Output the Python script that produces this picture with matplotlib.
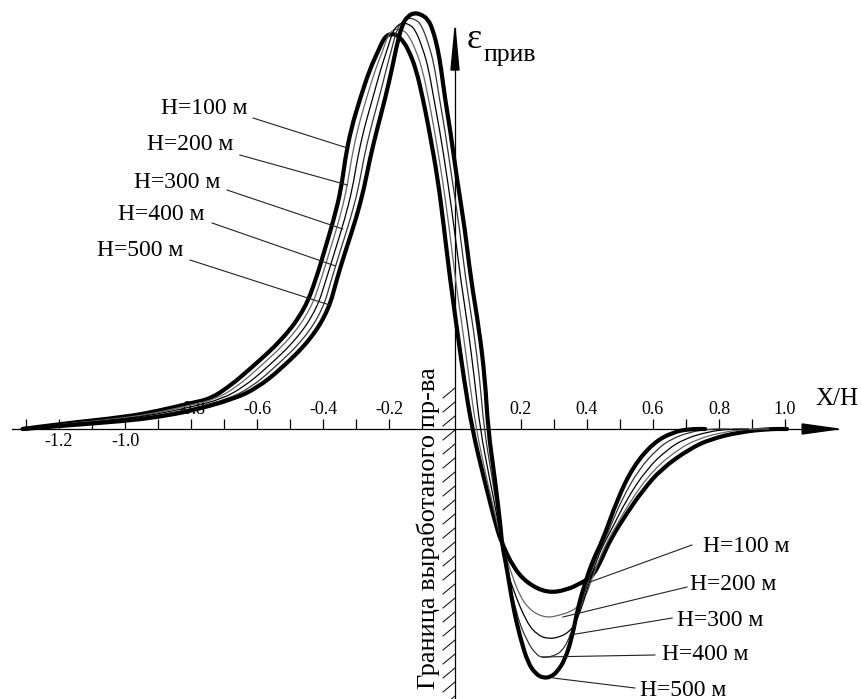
import matplotlib
matplotlib.use('Agg')
import matplotlib.pyplot as plt
from matplotlib.patches import Polygon, PathPatch
from matplotlib.path import Path

plt.rcParams['font.family'] = ['Liberation Serif', 'DejaVu Serif']

# ---------------- data (X/H, reduced strain in arbitrary units) ----------------
x_h100 = [-1.31, -1.2, -1.0, -0.9, -0.8, -0.742, -0.682, -0.621, -0.521, -0.455, -0.421, -0.394, -0.367,
          -0.345, -0.333, -0.315, -0.288, -0.258, -0.230, -0.218, -0.205, -0.191, -0.176, -0.160, -0.142,
          -0.118, -0.097, -0.079, -0.052, -0.033, -0.015, 0.006, 0.027, 0.052, 0.088, 0.127, 0.142,
          0.176, 0.218, 0.279, 0.339, 0.388, 0.418, 0.445, 0.470, 0.521, 0.570, 0.625, 0.710, 0.775,
          0.864, 0.950, 1.006]
y_h100 = [0.0, 0.05, 0.12, 0.18, 0.26, 0.30, 0.43, 0.60, 0.90, 1.20, 1.50, 1.80, 2.10,
          2.40, 2.70, 3.00, 3.30, 3.60, 3.80, 3.89, 3.94, 3.95, 3.94, 3.89, 3.80,
          3.60, 3.30, 3.00, 2.50, 2.00, 1.50, 1.00, 0.50, 0.0, -0.50, -1.00, -1.14,
          -1.38, -1.54, -1.64, -1.61, -1.53, -1.47, -1.30, -1.11, -0.84, -0.61, -0.40, -0.20, -0.10,
          -0.03, 0.0, 0.0]

x_h200 = [-1.31, -1.2, -1.0, -0.9, -0.8, -0.724, -0.662, -0.598, -0.500, -0.437, -0.405, -0.378, -0.350,
          -0.328, -0.314, -0.295, -0.269, -0.241, -0.217, -0.204, -0.189, -0.175, -0.158, -0.141, -0.120,
          -0.099, -0.080, -0.063, -0.038, -0.017, 0.001, 0.023, 0.043, 0.064, 0.096, 0.132, 0.142,
          0.167, 0.197, 0.233, 0.279, 0.318, 0.348, 0.372, 0.395, 0.415, 0.437, 0.462, 0.483, 0.535,
          0.603, 0.678, 0.735, 0.813, 0.890, 0.950]
y_h200 = [0.0, 0.045, 0.11, 0.165, 0.24, 0.30, 0.42, 0.60, 0.90, 1.20, 1.50, 1.80, 2.10,
          2.40, 2.70, 3.00, 3.30, 3.60, 3.80, 3.93, 3.99, 4.00, 3.99, 3.94, 3.80,
          3.60, 3.30, 3.00, 2.50, 2.00, 1.50, 1.00, 0.50, 0.0, -0.50, -1.00, -1.14,
          -1.41, -1.68, -1.83, -1.89, -1.86, -1.83, -1.78, -1.68, -1.50, -1.30, -1.12, -1.00, -0.70,
          -0.40, -0.20, -0.10, -0.03, 0.0, 0.0]

x_h300 = [-1.31, -1.2, -1.0, -0.9, -0.8, -0.706, -0.641, -0.574, -0.479, -0.419, -0.390, -0.362, -0.334,
          -0.311, -0.296, -0.276, -0.250, -0.225, -0.205, -0.189, -0.174, -0.158, -0.141, -0.121, -0.097,
          -0.080, -0.064, -0.047, -0.023, -0.002, 0.017, 0.040, 0.059, 0.076, 0.105, 0.135, 0.142,
          0.145, 0.176, 0.218, 0.250, 0.282, 0.318, 0.345, 0.362, 0.385, 0.405, 0.430, 0.455, 0.475,
          0.521, 0.581, 0.645, 0.695, 0.763, 0.831, 0.890]
y_h300 = [0.0, 0.04, 0.10, 0.15, 0.22, 0.30, 0.42, 0.60, 0.90, 1.20, 1.50, 1.80, 2.10,
          2.40, 2.70, 3.00, 3.30, 3.60, 3.80, 3.97, 4.04, 4.06, 4.05, 4.00, 3.80,
          3.60, 3.30, 3.00, 2.50, 2.00, 1.50, 1.00, 0.50, 0.0, -0.50, -1.00, -1.14,
          -1.28, -1.61, -1.94, -2.06, -2.10, -2.08, -2.03, -1.96, -1.78, -1.55, -1.30, -1.12, -1.00,
          -0.70, -0.40, -0.20, -0.10, -0.03, 0.0, 0.0]

x_h400 = [-1.31, -1.2, -1.0, -0.9, -0.8, -0.688, -0.621, -0.551, -0.457, -0.400, -0.374, -0.346, -0.317,
          -0.293, -0.277, -0.256, -0.231, -0.208, -0.192, -0.175, -0.158, -0.142, -0.123, -0.102, -0.075,
          -0.061, -0.047, -0.031, -0.009, 0.014, 0.032, 0.056, 0.075, 0.088, 0.113, 0.137, 0.142,
          0.152, 0.188, 0.221, 0.245, 0.264, 0.300, 0.325, 0.345, 0.362, 0.380, 0.402, 0.425, 0.452,
          0.468, 0.506, 0.558, 0.613, 0.655, 0.712, 0.771, 0.830]
y_h400 = [0.0, 0.035, 0.09, 0.135, 0.20, 0.30, 0.41, 0.60, 0.90, 1.20, 1.50, 1.80, 2.10,
          2.40, 2.70, 3.00, 3.30, 3.60, 3.80, 4.01, 4.08, 4.11, 4.10, 4.05, 3.80,
          3.60, 3.30, 3.00, 2.50, 2.00, 1.50, 1.00, 0.50, 0.0, -0.50, -1.00, -1.14,
          -1.34, -1.88, -2.14, -2.25, -2.29, -2.27, -2.22, -2.10, -1.95, -1.78, -1.55, -1.30, -1.12,
          -1.00, -0.70, -0.40, -0.20, -0.10, -0.03, 0.0, 0.0]

x_h500 = [-1.31, -1.2, -1.0, -0.9, -0.8, -0.670, -0.600, -0.527, -0.436, -0.382, -0.358, -0.330, -0.300,
          -0.276, -0.258, -0.236, -0.212, -0.191, -0.179, -0.160, -0.142, -0.125, -0.105, -0.082, -0.067,
          -0.052, -0.042, -0.030, -0.015, 0.006, 0.030, 0.048, 0.073, 0.091, 0.100, 0.121, 0.139, 0.142,
          0.158, 0.176, 0.197, 0.221, 0.245, 0.267, 0.290, 0.309, 0.333, 0.355, 0.373, 0.394, 0.418,
          0.448, 0.491, 0.539, 0.600, 0.661, 0.712, 0.758]
y_h500 = [0.0, 0.03, 0.08, 0.12, 0.18, 0.30, 0.41, 0.60, 0.90, 1.20, 1.50, 1.80, 2.10,
          2.40, 2.70, 3.00, 3.30, 3.60, 3.80, 4.05, 4.13, 4.16, 4.15, 4.10, 3.99,
          3.80, 3.60, 3.30, 3.00, 2.50, 2.00, 1.50, 1.00, 0.50, 0.0, -0.50, -1.00, -1.14,
          -1.41, -1.78, -2.08, -2.34, -2.45, -2.49, -2.48, -2.43, -2.31, -2.08, -1.78, -1.54, -1.31,
          -1.11, -0.71, -0.38, -0.14, -0.03, 0.0, 0.0]

curve_names = ['H=100 м', 'H=200 м', 'H=300 м', 'H=400 м', 'H=500 м']

tick_values = [-1.3, -1.2, -1.1, -1.0, -0.9, -0.8, -0.7, -0.6, -0.5, -0.4, -0.3, -0.2, -0.1,
               0.1, 0.2, 0.3, 0.4, 0.5, 0.6, 0.7, 0.8, 0.9, 1.0]
upper_labels = [-0.8, -0.6, -0.4, -0.2, 0.2, 0.4, 0.6, 0.8, 1.0]
lower_labels = [-1.2, -1.0]

# label anchors (text position, leader start, leader end on the curve)
left_text = [(-0.630, 3.21), (-0.673, 2.84), (-0.712, 2.47), (-0.758, 2.15), (-0.824, 1.78)]
left_lead = [((-0.612, 3.11), (-0.326, 2.81)), ((-0.652, 2.74), (-0.326, 2.44)),
             ((-0.691, 2.39), (-0.340, 2.00)), ((-0.736, 2.06), (-0.362, 1.63)),
             ((-0.803, 1.69), (-0.380, 1.24))]
right_text = [(0.752, -1.18), (0.712, -1.56), (0.673, -1.91), (0.627, -2.26), (0.561, -2.61)]
right_lead = [((0.718, -1.16), (0.409, -1.53)), ((0.703, -1.58), (0.327, -1.88)),
              ((0.658, -1.89), (0.348, -2.06)), ((0.606, -2.26), (0.264, -2.28)),
              ((0.545, -2.59), (0.297, -2.49))]

# ---------------- figure ----------------
W, H = 861, 699
fig = plt.figure(figsize=(W / 100, H / 100), dpi=100)
ax = fig.add_axes([0, 0, 1, 1])
xmin, xmax = -455 / 330, 406 / 330
ymin, ymax = -2.70, 4.29
ax.set_xlim(xmin, xmax)
ax.set_ylim(ymin, ymax)
ax.axis('off')

px_x = (xmax - xmin) / W   # data per pixel
px_y = (ymax - ymin) / H

# axes lines
ax.plot([xmin + 12 * px_x, 1.161], [0, 0], color='black', lw=0.9, zorder=2)
ax.add_patch(Polygon([[1.052, 5 * px_y], [1.161, 0], [1.052, -5 * px_y]], closed=True,
                     color='black', zorder=3))
ax.plot([0, 0], [ymin, 4.01], color='black', lw=0.9, zorder=2)
ax.add_patch(Polygon([[-4 * px_x, 3.59], [0, 4.01], [4 * px_x, 3.59]], closed=True,
                     color='black', zorder=3))

# ticks
ax.vlines(tick_values, 0, 10 * px_y, color='black', lw=0.9, zorder=2)
for v in upper_labels:
    ax.text(v, 20 * px_y, f'{v:.1f}', ha='center', va='center', fontsize=13, zorder=1)
for v in lower_labels:
    ax.text(v, -13 * px_y, f'{v:.1f}', ha='center', va='center', fontsize=13, zorder=1)

# hatching of mined-out boundary
py = 388
while py < H:
    y0 = (429 - py) / 100
    ax.plot([-12 * px_x, 0], [y0 - 10 * px_y, y0], color='black', lw=0.7, zorder=2)
    py += 14
ax.text(-27 * px_x, -0.99, 'Граница выработаного пр-ва', rotation=90, ha='center',
        va='center', fontsize=19)


def smooth_path(xv, yv):
    """Quadratic-Bezier rendering through the read points (control points = data)."""
    pts = list(zip(xv, yv))
    verts = [pts[0]]
    codes = [Path.MOVETO]
    for i in range(1, len(pts) - 1):
        mid = ((pts[i][0] + pts[i + 1][0]) / 2, (pts[i][1] + pts[i + 1][1]) / 2)
        verts += [pts[i], mid]
        codes += [Path.CURVE3, Path.CURVE3]
    verts.append(pts[-1])
    codes.append(Path.LINETO)
    return Path(verts, codes)


# curves
styles = [dict(edgecolor='black', lw=3.0), dict(edgecolor='#666666', lw=0.9),
          dict(edgecolor='black', lw=0.9), dict(edgecolor='#333333', lw=0.9),
          dict(edgecolor='black', lw=3.0)]
xs = [x_h100, x_h200, x_h300, x_h400, x_h500]
ys = [y_h100, y_h200, y_h300, y_h400, y_h500]
for xv, yv, st in zip(xs, ys, styles):
    ax.add_patch(PathPatch(smooth_path(xv, yv), facecolor='none', joinstyle='round',
                           capstyle='round', zorder=4, **st))

# labels and leaders
for name, (tx, ty), (p0, p1) in zip(curve_names, left_text, left_lead):
    ax.text(tx, ty, name, ha='right', va='center', fontsize=17)
    ax.plot([p0[0], p1[0]], [p0[1], p1[1]], color='#222222', lw=0.8, zorder=5)
for name, (tx, ty), (p0, p1) in zip(curve_names, right_text, right_lead):
    ax.text(tx, ty, name, ha='left', va='center', fontsize=17)
    ax.plot([p0[0], p1[0]], [p0[1], p1[1]], color='#222222', lw=0.8, zorder=5)

# axis titles
ax.text(815 * px_x + xmin, (429 - 399) / 100, 'X/H', ha='left', va='center', fontsize=18)
ax.text(xmin + 467 * px_x, (429 - 40) / 100, 'ε', ha='left', va='center', fontsize=26)
ax.text(xmin + 484 * px_x, (429 - 55) / 100, 'прив', ha='left', va='center', fontsize=18.5)

fig.savefig('out.png', dpi=100)
